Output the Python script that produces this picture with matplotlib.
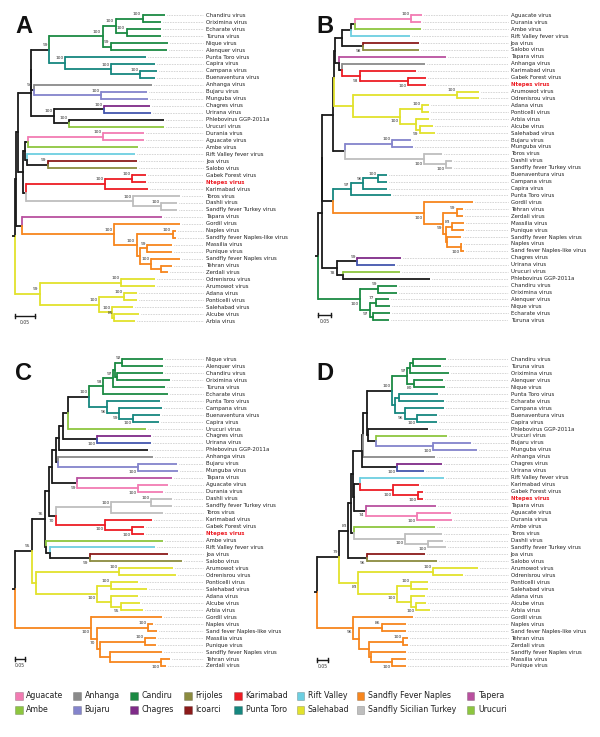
import matplotlib
matplotlib.use("Agg")
import matplotlib.pyplot as plt
from matplotlib.patches import Rectangle

# Newick trees; branch lengths in substitutions/site, internal labels = bootstrap support
TREE_A = """
(
 (
  (
   (
    (
     (
      (
       (
        (Chandiru virus:0.056,Oriximina virus:0.046)100:0.0675,
        (Echarate virus:0.086,Turuna virus:0.086)100:0.0275
       )100:0.0325,
       (Nique virus:0.1425,Alenquer virus:0.14)99:0.021
      )100:0.1335,
      (
       Punta Toro virus:0.2025,
       (Capira virus:0.11,(Campana virus:0.041,Buenaventura virus:0.036)100:0.074)100:0.115
      )100:0.039
     )99:0.0445,
     (Anhanga virus:0.295,(Bujaru virus:0.115,Munguba virus:0.1175)100:0.1675)94:0.006
    ):0.001,
    (
     (Chagres virus:0.115,Urirana virus:0.1175)100:0.124,
     (Phlebovirus GGP-2011a:0.2375,Urucuri virus:0.2375)100:0.037
    )100:0.058
   ):0.0325,
   (
    (
     (
      (Durania virus:0.103,Aguacate virus:0.103)100:0.187,
      Ambe virus:0.2735
     ):0.008,
     (
      Rift Valley fever virus:0.271,
      (Joa virus:0.223,Salobo virus:0.223)99:0.0525
     ):0.004
    ):0.006,
    (
     (
      (Gabek Forest virus:0.035,Ntepes virus:0.035)100:0.067,
      Karimabad virus:0.107
     )100:0.1975,
     (
      Toros virus:0.118,
      (Dashli virus:0.04,Sandfly fever Turkey virus:0.04)100:0.07
     )100:0.267
    ):0.008
   ):0.012
  ):0.005,
  (
   Tapara virus:0.35,
   (
    Gordil virus:0.164,
    (
     (Naples virus:0.0075,Sandfly fever Naples-like virus:0.0075)100:0.09,
     (
      (Massilia virus:0.0625,Punique virus:0.0625)99:0.019,
      (
       Sandfly fever Naples virus:0.071,
       (Tehran virus:0.029,Zerdali virus:0.018):0.023
      )100:0.029
     ):0.008
    )100:0.056
   )100:0.2315
  ):0.014
 ):0.0025,
 (
  (Odrenisrou virus:0.086,Arumowot virus:0.086)100:0.202,
  (
   (Adana virus:0.032,Ponticelli virus:0.032)100:0.0625,
   (
    Salehabad virus:0.0525,
    (Alcube virus:0.0625,Arbia virus:0.052)85:0.0065
   )100:0.032
  )100:0.1475
 )99:0.0625
);
"""

TREE_B = """
(
 (
  (
   (
    (
     (
      (
       (
        (
         (Aguacate virus:0.0412,Durania virus:0.0385)100:0.2154,
         Ambe virus:0.2538
        ):0.0165,
        Rift Valley fever virus:0.2281
       ):0.0323,
       (Joa virus:0.2177,Salobo virus:0.2177)98:0.0785
      ):0.0281,
      (
       Tapara virus:0.4104,
       (
        Anhanga virus:0.3181,
        (Karimabad virus:0.2142,(Gabek Forest virus:0.0692,Ntepes virus:0.0692)100:0.1835)93:0.0681
       ):0.0115
      ):0.0165
     ):0.003,
     (
      (Arumowot virus:0.0846,Odrenisrou virus:0.0846)100:0.4,
      (
       (Adana virus:0.0269,Ponticelli virus:0.0269)100:0.0858,
       (Arbia virus:0.0523,(Alcube virus:0.0512,Salehabad virus:0.0577)99:0.0165):0.0604
      )100:0.1796
     ):0.0735
    ):0.0035,
    (
     (Bujaru virus:0.0742,Munguba virus:0.0808)100:0.1796,
     (Toros virus:0.0669,(Dashli virus:0.0254,Sandfly fever Turkey virus:0.0254)100:0.0823)100:0.305
    ):0.045
   ):0.0423,
   (
    (
     (
      (Buenaventura virus:0.0346,Campana virus:0.0346)100:0.0577,
      Capira virus:0.0923
     )96:0.0485,
     Punta Toro virus:0.1538
    )97:0.0669,
    (
     Gordil virus:0.1885,
     (
      (Tehran virus:0.0231,Zerdali virus:0.0231)99:0.0515,
      (
       (Massilia virus:0.0473,Punique virus:0.0473)83:0.0231,
       (
        Sandfly fever Naples virus:0.0538,
        (Naples virus:0.0062,Sand fever Naples-like virus:0.0127)100:0.0538
       ):0.0038
      ):0.0092
     )99:0.0731
    )100:0.35
   ):0.0423
  ):0.003,
  (
   (Chagres virus:0.1681,Urirana virus:0.145)99:0.0792,
   (Urucuri virus:0.2181,Phlebovirus GGP-2011a:0.3335):0.0254
  )78:0.0585
 ):0.0154,
 (
  (Chandiru virus:0.0708,Oriximina virus:0.0708)99:0.0704,
  (
   (Alenquer virus:0.0512,Nique virus:0.0538)77:0.0231,
   (Echarate virus:0.0642,Turuna virus:0.0615):0.0127
  )97:0.0385
 )100:0.1635
);
"""

TREE_C = """
(
 (
  (
   (
    (
     (
      (
       (
        (
         (
          (
           (
            (
             (Nique virus:0.202,Alenquer virus:0.202)92:0.0365,
             (Chandiru virus:0.23,Oriximina virus:0.2665):0.0085
            ):0.0085,
            Turuna virus:0.2585
           )97:0.05,
           Echarate virus:0.325
          )93:0.07,
          (
           Punta Toro virus:0.2635,
           (Campana virus:0.215,(Buenaventura virus:0.1335,Capira virus:0.13)100:0.07)99:0.06
          )96:0.09
         )100:0.108,
         Urucuri virus:0.3915
        ):0.022,
        (Chagres virus:0.27,Urirana virus:0.27)100:0.167
       ):0.02,
       Phlebovirus GGP-2011a:0.445
      ):0.018,
      (Anhanga virus:0.475,(Bujaru virus:0.192,Munguba virus:0.2)100:0.4):0.013
     ):0.02,
     (Tapara virus:0.472,(Aguacate virus:0.153,Durania virus:0.128)100:0.302)99:0.128
    ):0.0135,
    (
     ((Dashli virus:0.105,Sandfly fever Turkey virus:0.105)100:0.1985,Toros virus:0.2615)100:0.275,
     (Karimabad virus:0.2335,(Gabek Forest virus:0.0615,Ntepes virus:0.0615)100:0.1335)100:0.245
    )70:0.035
   ):0.02,
   (
    Ambe virus:0.589,
    (Rift Valley fever virus:0.525,(Joa virus:0.3915,Salobo virus:0.4615)99:0.2):0.0225
   ):0.0025
  )76:0.0665,
  (
   (Arumowot virus:0.267,Odrenisrou virus:0.2835)100:0.4165,
   (
    (Ponticelli virus:0.1335,Salehabad virus:0.1785)100:0.0715,
    (Adana virus:0.1335,(Alcube virus:0.095,Arbia virus:0.1115)95:0.05):0.0715
   )100:0.3035
  ):0.0215
 )95:0.0835,
 (
  Gordil virus:0.355,
  (
   (Naples virus:0.025,Sand fever Naples-like virus:0.045)100:0.255,
   (
    (Massilia virus:0.055,Punique virus:0.055)100:0.225,
    (Sandfly fever Naples virus:0.2585,(Tehran virus:0.045,Zerdali virus:0.0235)100:0.255):0.05
   ):0.0165
  )70:0.03
 )100:0.3785
);
"""

TREE_D = """
(
 (
  (
   (
    (
     (
      (
       (
        (
         (
          ((Chandiru virus:0.1473,Turuna virus:0.1259):0.015,Oriximina virus:0.1773):0.0123,
          (Alenquer virus:0.1305,Nique virus:0.1409)80:0.0305
         )97:0.0682,
         (
          (Punta Toro virus:0.1773,Echarate virus:0.2032):0.0195,
          (Campana virus:0.1773,(Buenaventura virus:0.0936,Capira virus:0.0936)100:0.0532)96:0.0455
         ):0.0123
        )100:0.1164,
        (
         Phlebovirus GGP-2011a:0.2755,
         (Urucuri virus:0.3214,(Bujaru virus:0.17,Munguba virus:0.1973)100:0.2605):0.0377
        ):0.0045
       ):0.0155,
       Anhanga virus:0.3259
      ):0.0036,
      (Chagres virus:0.2045,Urirana virus:0.1214)100:0.1582
     ):0.0432,
     (
      (
       Rift Valley fever virus:0.3818,
       (Karimabad virus:0.1209,(Gabek Forest virus:0.02,Ntepes virus:0.02)100:0.1164)100:0.1486
      ):0.0273,
      (Tapara virus:0.3182,(Aguacate virus:0.1545,Durania virus:0.1618)100:0.2305)74:0.0545
     ):0.0045
    ):0.0068,
    (
     Ambe virus:0.3668,
     (Toros virus:0.1668,(Dashli virus:0.0709,Sandfly fever Turkey virus:0.0818)100:0.1032)100:0.2305
    ):0.0127
   ):0.0145,
   (Joa virus:0.265,Salobo virus:0.3182)96:0.0836
  )83:0.0409,
  (
   (Arumowot virus:0.2045,Odrenisrou virus:0.1364)100:0.3409,
   (
    (Ponticelli virus:0.0786,Salehabad virus:0.0786)100:0.065,
    (Adana virus:0.0636,(Alcube virus:0.0455,Arbia virus:0.0636)100:0.0227):0.065
   )100:0.1745
  )83:0.0864
 )79:0.1027,
 (
  Gordil virus:0.2727,
  (
   (Naples virus:0.1105,Sand fever Naples-like virus:0.1105)86:0.1018,
   (
    (Tehran virus:0.0255,Zerdali virus:0.0255)100:0.1518,
    (Sandfly fever Naples virus:0.1591,(Massilia virus:0.065,Punique virus:0.065)100:0.0941):0.0077
   ):0.0455
  ):0.0273
 )96:0.1664
);
"""

PINK = "#f27cb3"
GRAY = "#8a8a8a"
GREEN = "#1b8a43"
OLIVE = "#8b8b3f"
RED = "#ed1c24"
CYAN = "#6dcfe1"
ORANGE = "#f7861e"
MAGENTA = "#b9509f"
LIME = "#8dc63f"
LAVENDER = "#8484cc"
PURPLE = "#7f2b88"
DARKRED = "#8b1a1a"
TEAL = "#16877f"
YELLOW = "#e2e22c"
SILVER = "#bebebe"
BLUE = "#4356ae"
BLACK = "#1a1a1a"

CANDIRU = ["Chandiru virus", "Oriximina virus", "Echarate virus", "Turuna virus",
           "Nique virus", "Alenquer virus"]
PUNTA_TORO = ["Punta Toro virus", "Capira virus", "Campana virus", "Buenaventura virus"]
SALEHABAD = ["Odrenisrou virus", "Arumowot virus", "Adana virus", "Ponticelli virus",
             "Salehabad virus", "Alcube virus", "Arbia virus"]
NAPLES = ["Gordil virus", "Naples virus", "Sandfly fever Naples-like virus",
          "Sand fever Naples-like virus", "Massilia virus", "Punique virus",
          "Sandfly fever Naples virus", "Tehran virus", "Zerdali virus"]
KARIMABAD = ["Gabek Forest virus", "Ntepes virus", "Karimabad virus"]
SICILIAN = ["Toros virus", "Dashli virus", "Sandfly fever Turkey virus"]
BUJARU = ["Bujaru virus", "Munguba virus"]
AGUACATE = ["Aguacate virus", "Durania virus"]
SINGLES = {"Anhanga virus": GRAY, "Chagres virus": PURPLE, "Urirana virus": BLUE,
           "Phlebovirus GGP-2011a": BLACK, "Urucuri virus": LIME, "Ambe virus": LIME,
           "Rift Valley fever virus": CYAN, "Joa virus": DARKRED, "Salobo virus": OLIVE,
           "Tapara virus": MAGENTA}

LEGEND_NAMES = ["Aguacate", "Anhanga", "Candiru", "Frijoles", "Karimabad", "Rift Valley",
                "Sandfly Fever Naples", "Tapera",
                "Ambe", "Bujaru", "Chagres", "Icoarci", "Punta Toro", "Salehabad",
                "Sandfly Sicilian Turkey", "Urucuri"]
LEGEND_COLOURS = [PINK, GRAY, GREEN, OLIVE, RED, CYAN, ORANGE, MAGENTA,
                  LIME, LAVENDER, PURPLE, DARKRED, TEAL, YELLOW, SILVER, LIME]

leaf_colour = dict(SINGLES)
for names, col in [(CANDIRU, GREEN), (PUNTA_TORO, TEAL), (SALEHABAD, YELLOW), (NAPLES, ORANGE),
                   (KARIMABAD, RED), (SICILIAN, SILVER), (BUJARU, LAVENDER), (AGUACATE, PINK)]:
    for n in names:
        leaf_colour[n] = col

# pixel layout of each panel: root x, px per unit, first leaf y, row step, label x
PANELS = [
    dict(letter="A", tree=TREE_A, root=15.0, k=400, top=15.3, row=6.95, label=206,
         bar=(15, 315.7), mark=(23.7, 26.7), mode="above", recolour={}),
    dict(letter="B", tree=TREE_B, root=317.5, k=260, top=15.3, row=6.93, label=510.7,
         bar=(318.3, 315.0), mark=(324.5, 26.7), mode="rule", recolour={}),
    dict(letter="C", tree=TREE_C, root=15.0, k=200, top=359.3, row=6.97, label=206,
         bar=(15, 659.3), mark=(23.3, 373.8), mode="rule", recolour={}),
    dict(letter="D", tree=TREE_D, root=316.7, k=220, top=359.3, row=6.97, label=510.7,
         bar=(317.3, 660.0), mark=(324.5, 373.8), mode="rule",
         recolour={"Echarate virus": TEAL}),
]

W, H = 600, 737
LW = 1.3


def parse_newick(text):
    s = "".join(line.strip() for line in text.strip().splitlines())
    pos = 0

    def read():
        nonlocal pos
        kids = []
        if s[pos] == "(":
            pos += 1
            kids.append(read())
            while s[pos] == ",":
                pos += 1
                kids.append(read())
            pos += 1
        start = pos
        while s[pos] not in ",();":
            pos += 1
        label, _, length = s[start:pos].partition(":")
        return {"name": label, "len": float(length or 0), "kids": kids}

    return read()


def place(node, x0, leaves):
    node["x"] = x0 + node["len"]
    if not node["kids"]:
        node["y"] = len(leaves)
        leaves.append(node)
    else:
        for kid in node["kids"]:
            place(kid, node["x"], leaves)
        node["y"] = (node["kids"][0]["y"] + node["kids"][-1]["y"]) / 2


def paint(node, colours):
    if not node["kids"]:
        node["c"] = colours[node["name"]]
    else:
        cols = {paint(kid, colours) for kid in node["kids"]}
        node["c"] = cols.pop() if len(cols) == 1 else BLACK
    return node["c"]


def draw(ax, node, mode):
    n = len(node["kids"])
    for i, kid in enumerate(node["kids"]):
        ax.plot([node["x"], node["x"]], [node["y"], kid["y"]], color=kid["c"], lw=LW,
                solid_capstyle="projecting", zorder=3)
        ax.plot([node["x"], kid["x"]], [kid["y"], kid["y"]], color=kid["c"], lw=LW,
                solid_capstyle="butt", zorder=3)
        if kid["kids"] and kid["name"]:
            below = mode == "rule" and i == n - 1
            ax.annotate(kid["name"], (kid["x"], kid["y"]), xytext=(-1.0, -3.3 if below else 3.3),
                        textcoords="offset points", ha="right", va="center",
                        fontsize=3.2, color="#333333", zorder=4)
        draw(ax, kid, mode)


fig = plt.figure(figsize=(W / 100, H / 100), dpi=100)

for p in PANELS:
    ax = fig.add_axes([0, 0, 1, 1])
    ax.set_xlim((0 - p["root"]) / p["k"], (W - p["root"]) / p["k"])
    ax.set_ylim((H - p["top"]) / p["row"], (0 - p["top"]) / p["row"])
    ax.axis("off")

    tree = parse_newick(p["tree"])
    leaves = []
    place(tree, 0.0, leaves)
    colours = dict(leaf_colour)
    colours.update(p["recolour"])
    paint(tree, colours)
    draw(ax, tree, p["mode"])
    # root stub
    ax.plot([tree["x"] - 2.5 / p["k"], tree["x"]], [tree["y"]] * 2, color=BLACK, lw=LW,
            solid_capstyle="butt", zorder=3)

    lab_x = (p["label"] - p["root"]) / p["k"]
    for lf in leaves:
        ax.plot([lf["x"] + 2 / p["k"], lab_x - 3 / p["k"]], [lf["y"]] * 2,
                ls=(0, (1, 1.6)), color="#9a9a9a", lw=0.45, zorder=1)
        is_new = lf["name"] == "Ntepes virus"
        ax.text(lab_x, lf["y"], lf["name"], fontsize=3.85, va="center", ha="left",
                color=RED if is_new else "#222222",
                fontweight="bold" if is_new else "normal")

    bx = (p["bar"][0] - p["root"]) / p["k"]
    by = (p["bar"][1] - p["top"]) / p["row"]
    tick = 2.0 / p["row"]
    ax.plot([bx, bx + 0.05], [by, by], color=BLACK, lw=1.0)
    ax.plot([bx, bx], [by - tick, by + tick], color=BLACK, lw=1.0)
    ax.plot([bx + 0.05, bx + 0.05], [by - tick, by + tick], color=BLACK, lw=1.0)
    ax.text(bx + 0.025, by + 6.5 / p["row"], "0.05", fontsize=3.3, ha="center", va="center",
            color="#333333")

# overlay for panel letters and the legend, in pixel units
ov = fig.add_axes([0, 0, 1, 1])
ov.set_xlim(0, W)
ov.set_ylim(H, 0)
ov.axis("off")
for p in PANELS:
    ov.text(p["mark"][0], p["mark"][1], p["letter"], fontsize=17, fontweight="bold",
            family="Liberation Sans", ha="center", va="center", color="#111111")

col_x = [15, 73.3, 130, 184.3, 234.3, 296.7, 356.7, 466.7]
row_y = [696, 710]
for i, (name, col) in enumerate(zip(LEGEND_NAMES, LEGEND_COLOURS)):
    x = col_x[i % 8]
    y = row_y[i // 8]
    ov.add_patch(Rectangle((x, y - 3.9), 7.6, 7.8, facecolor=col,
                           edgecolor=(0, 0, 0, 0.25), lw=0.5))
    ov.text(x + 11.3, y, name, fontsize=5.7, ha="left", va="center", color="#222222")

fig.savefig("out.png", dpi=100)
